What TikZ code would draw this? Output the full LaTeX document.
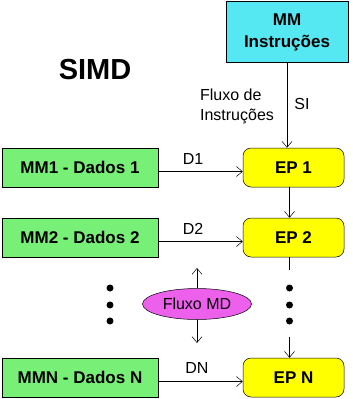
\documentclass[tikz,border=0pt]{standalone}
\usepackage{fontspec}
\setmainfont{Liberation Sans}
\usetikzlibrary{positioning, arrows.meta, shapes.geometric}
\definecolor{ciano}{RGB}{85,232,242}
\definecolor{verde}{RGB}{120,240,120}
\definecolor{amarelo}{RGB}{255,255,0}
\definecolor{magenta}{RGB}{236,96,236}
\tikzset{
	mem/.style={draw, fill=verde, minimum width=156pt, minimum height=39pt, inner sep=0pt, font=\fontsize{17}{18}\selectfont\bfseries},
	proc/.style={draw, fill=amarelo, rounded corners=8pt, minimum width=101pt, minimum height=39pt, inner sep=0pt, font=\fontsize{17}{18}\selectfont\bfseries},
	rot/.style={font=\fontsize{16}{20}\selectfont, align=left},
	ponto/.style={circle, fill=black, inner sep=0pt, minimum size=7pt},
	seta/.style={-{Straight Barb[length=6pt,width=10pt]}, line width=0.5pt}
}
\begin{document}
\begin{tikzpicture}[x=1pt, y=-1pt, line width=0.5pt]
		\useasboundingbox (0,0) rectangle (353,399);
		\node[draw, fill=ciano, minimum width=122pt, minimum height=61pt, inner sep=0pt, align=center, font=\fontsize{17}{22}\selectfont\bfseries] (mm) at (287,32) {MM\\Instruções};
		\node[font=\fontsize{29}{30}\selectfont\bfseries] (simd) at (95,70) {SIMD};
		\node[rot] (fluxo) at (237,106) {Fluxo de\\Instruções};
		\node[rot] (si) at (302,104) {SI};
		\node[mem] (mm1) at (80,167.5) {MM1 - Dados 1};
		\node[mem] (mm2) at (80,237.5) {MM2 - Dados 2};
		\node[mem] (mmn) at (80,377.5) {MMN - Dados N};
		\node[proc] (ep1) at (293.5,167.5) {EP 1};
		\node[proc] (ep2) at (293.5,237.5) {EP 2};
		\node[proc] (epn) at (293.5,377.5) {EP N};
		\node[rot] (d1) at (193,159) {D1};
		\node[rot] (d2) at (193,229) {D2};
		\node[rot] (dn) at (197,368) {DN};
		\node[ellipse, draw, fill=magenta, minimum width=109pt, minimum height=31pt, inner sep=0pt, font=\fontsize{16}{18}\selectfont] (md) at (197,304) {Fluxo MD};
		\coordinate (mdcima) at (197,268);
		\coordinate (mdbaixo) at (197,343);
		\coordinate (fim2) at (289.5,270);
		\coordinate (inin) at (289.5,337);
		\node[ponto] (e1) at (289.5,288) {};
		\node[ponto] (e2) at (289.5,305) {};
		\node[ponto] (e3) at (289.5,321) {};
		\node[ponto] (l1) at (110,288) {};
		\node[ponto] (l2) at (110,305) {};
		\node[ponto] (l3) at (110,321) {};
		\draw[seta] (mm.south) -- (mm.south |- ep1.north);
		\draw[seta] (ep1.south -| fim2) -- (ep2.north -| fim2);
		\draw (ep2.south -| fim2) -- (fim2);
		\draw[seta] (inin) -- (epn.north -| inin);
		\draw[seta] ([yshift=-4pt]mm1.east) -- ([yshift=-4pt]ep1.west);
		\draw[seta] ([yshift=-4pt]mm2.east) -- ([yshift=-4pt]ep2.west);
		\draw[seta] ([yshift=-4pt]mmn.east) -- ([yshift=-4pt]epn.west);
		\draw[seta] (md.north) -- (mdcima);
		\draw[seta] (md.south) -- (mdbaixo);
		\end{tikzpicture}
\end{document}
